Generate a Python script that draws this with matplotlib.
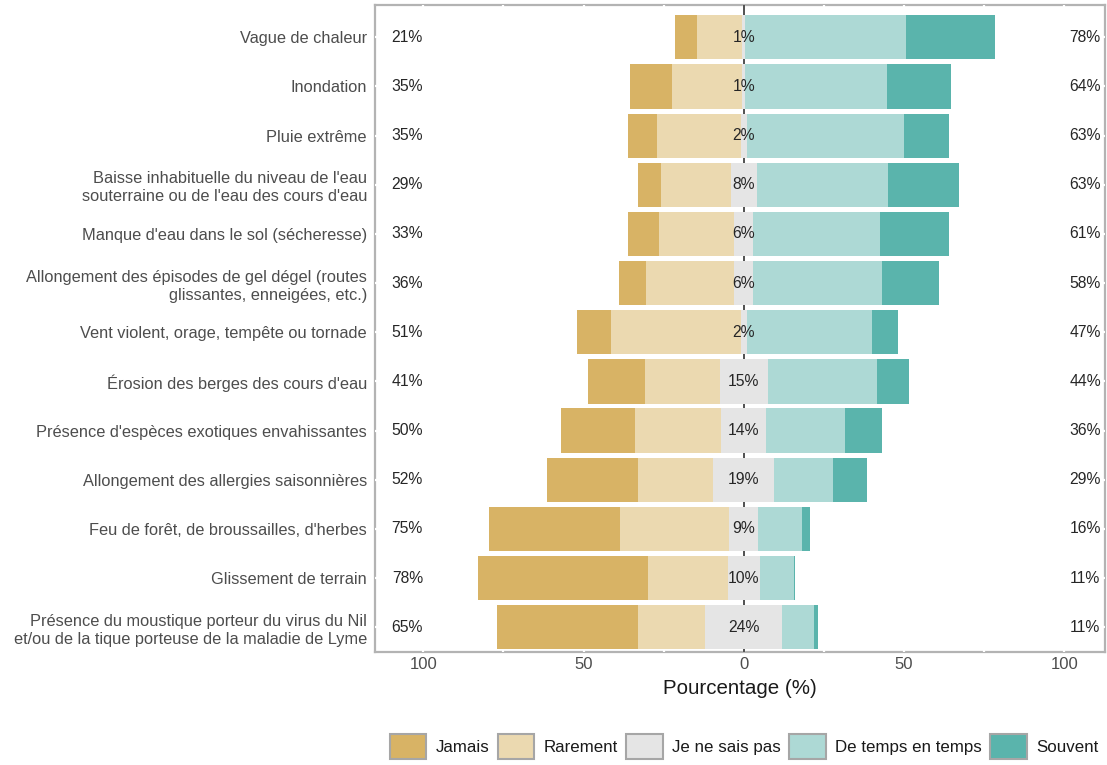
import numpy as np
import matplotlib.pyplot as plt
from matplotlib.patches import Patch

plt.rcParams['font.family'] = ['Liberation Sans', 'DejaVu Sans']

# Categories, top to bottom
categories = [
    "Vague de chaleur",
    "Inondation",
    "Pluie extrême",
    "Baisse inhabituelle du niveau de l'eau\nsouterraine ou de l'eau des cours d'eau",
    "Manque d'eau dans le sol (sécheresse)",
    "Allongement des épisodes de gel dégel (routes\nglissantes, enneigées, etc.)",
    "Vent violent, orage, tempête ou tornade",
    "Érosion des berges des cours d'eau",
    "Présence d'espèces exotiques envahissantes",
    "Allongement des allergies saisonnières",
    "Feu de forêt, de broussailles, d'herbes",
    "Glissement de terrain",
    "Présence du moustique porteur du virus du Nil\net/ou de la tique porteuse de la maladie de Lyme",
]

# Percentages per response level
jamais = [7, 13, 9, 7, 9.5, 8.5, 10.5, 17.5, 23, 28.5, 41, 53, 44]
rarement = [14, 22, 26, 22, 23.5, 27.5, 40.5, 23.5, 27, 23.5, 34, 25, 21]
ne_sais_pas = [1, 1, 2, 8, 6, 6, 2, 15, 14, 19, 9, 10, 24]
de_temps = [50, 44, 49, 41, 39.5, 40, 39, 34, 24.5, 18.3, 13.6, 10.7, 10]
souvent = [28, 20, 14, 22, 21.5, 18, 8, 10, 11.5, 10.7, 2.4, 0.3, 1]

levels = ["Jamais", "Rarement", "Je ne sais pas", "De temps en temps", "Souvent"]
colors = ["#D8B365", "#EBD9B0", "#E5E5E5", "#ADD9D5", "#5AB4AC"]

j = np.array(jamais, dtype=float)
r = np.array(rarement, dtype=float)
n = np.array(ne_sais_pas, dtype=float)
d = np.array(de_temps, dtype=float)
s = np.array(souvent, dtype=float)
y = np.arange(len(categories))

fig = plt.figure(figsize=(11.07, 7.65), dpi=100)
ax = fig.add_axes([0.339, 0.148, 0.659, 0.845])

h = 0.9
ax.axvline(0, color="#333333", lw=1.2, zorder=1.2)
ax.barh(y, r, left=-n / 2 - r, height=h, color=colors[1], zorder=2)
ax.barh(y, j, left=-n / 2 - r - j, height=h, color=colors[0], zorder=2)
ax.barh(y, n, left=-n / 2, height=h, color=colors[2], zorder=2)
ax.barh(y, d, left=n / 2, height=h, color=colors[3], zorder=2)
ax.barh(y, s, left=n / 2 + d, height=h, color=colors[4], zorder=2)

txt = "#262626"
fs = 11.3
for i in y:
    ax.text(-105, i, f"{round(j[i] + r[i])}%", ha="center", va="center",
            fontsize=fs, color=txt, zorder=3)
    ax.text(0, i, f"{round(n[i])}%", ha="center", va="center",
            fontsize=fs, color=txt, zorder=3)
    ax.text(106.5, i, f"{round(d[i] + s[i])}%", ha="center", va="center",
            fontsize=fs, color=txt, zorder=3)

ax.set_xlim(-115, 112.6)
ax.set_ylim(len(categories) - 1 + 0.5, -0.65)
ax.set_yticks(y)
ax.set_yticklabels(categories, fontsize=11.8, color="#4D4D4D", linespacing=1.25)
ticks = [-100, -50, 0, 50, 100]
ax.set_xticks(ticks)
ax.set_xticklabels([str(abs(t)) for t in ticks], fontsize=12, color="#4D4D4D")
ax.set_xticks([-75, -25, 25, 75], minor=True)
ax.tick_params(axis="both", which="both", length=0, pad=4)
ax.tick_params(axis="y", pad=6)
ax.set_xlabel("Pourcentage (%)", fontsize=14.8, color="#1A1A1A", labelpad=5)

ax.set_axisbelow(True)
ax.grid(True, which="both", color="white", lw=1.6)
for sp in ax.spines.values():
    sp.set_color("#B3B3B3")
    sp.set_linewidth(1.6)
    sp.set_zorder(0.4)

handles = [Patch(facecolor=c, edgecolor="#A6A6A6", linewidth=1.5, label=l)
           for c, l in zip(colors, levels)]
fig.legend(handles=handles, loc="center", bbox_to_anchor=(0.672, 0.024),
           ncol=5, frameon=False, fontsize=12.2, handlelength=2.15,
           handleheight=1.85, handletextpad=0.55, columnspacing=0.5,
           labelcolor="#1A1A1A")

fig.savefig("out.png", dpi=100)
